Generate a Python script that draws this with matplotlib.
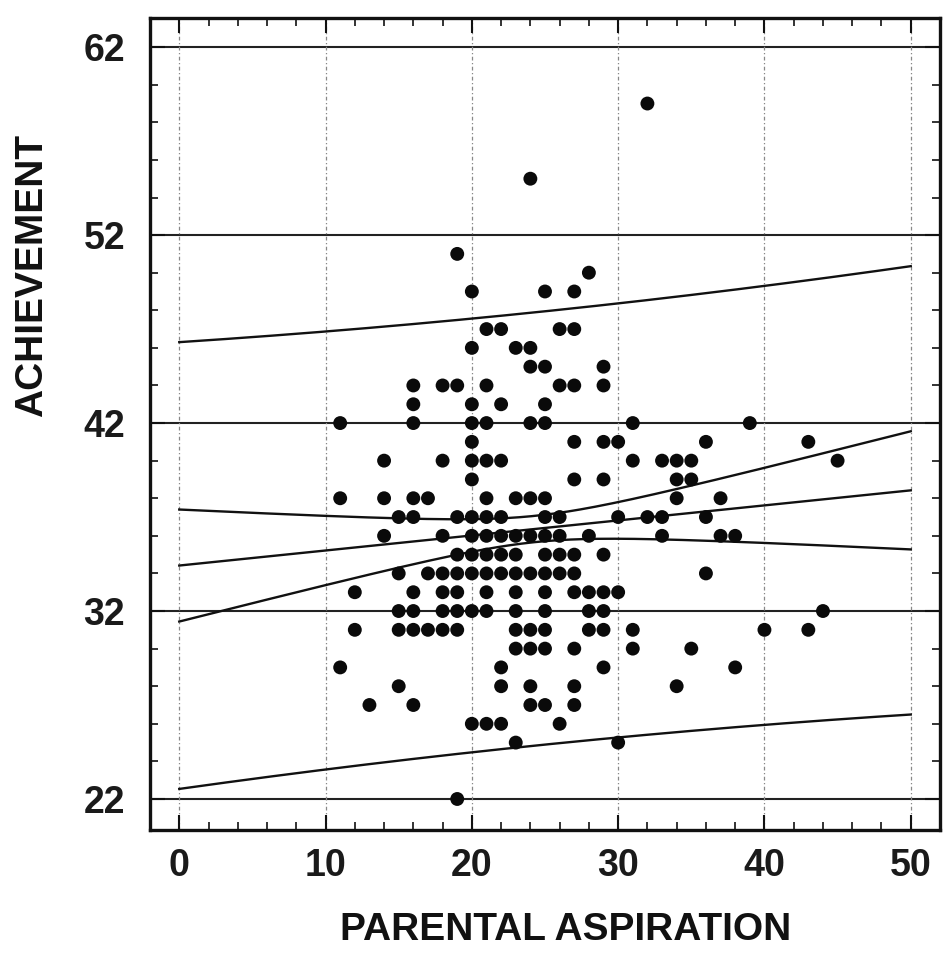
import numpy as np
import matplotlib
matplotlib.use("Agg")
import matplotlib.pyplot as plt
from matplotlib.ticker import MultipleLocator

# ---- data ----
achievement_levels = [59, 55, 51, 50, 49, 47, 46, 45, 44, 43, 42, 41, 40, 39, 38,
                      37, 36, 35, 34, 33, 32, 31, 30, 29, 28, 27, 26, 25, 22]
aspiration_at_level = [
    [32],
    [24],
    [19],
    [28],
    [20, 25, 27],
    [21, 22, 26, 27],
    [20, 23, 24],
    [24, 25, 29],
    [16, 18, 19, 21, 26, 27, 29],
    [16, 20, 22, 25],
    [11, 16, 20, 21, 24, 25, 31, 39],
    [20, 27, 29, 30, 36, 43],
    [14, 18, 20, 21, 22, 31, 33, 34, 35, 45],
    [20, 27, 29, 34, 35],
    [11, 14, 16, 17, 21, 23, 24, 25, 34, 37],
    [15, 16, 19, 20, 21, 22, 25, 26, 30, 32, 33, 36],
    [14, 18, 20, 21, 22, 23, 24, 25, 26, 28, 33, 37, 38],
    [19, 20, 21, 22, 23, 25, 26, 27, 29],
    [15, 17, 18, 19, 20, 21, 22, 23, 24, 25, 26, 27, 36],
    [12, 16, 18, 19, 21, 23, 25, 27, 28, 29, 30],
    [15, 16, 18, 19, 20, 21, 23, 25, 28, 29, 44],
    [12, 15, 16, 17, 18, 19, 23, 24, 25, 28, 29, 31, 40, 43],
    [23, 24, 25, 27, 31, 35],
    [11, 22, 29, 38],
    [15, 22, 24, 27, 34],
    [13, 16, 24, 25, 27],
    [20, 21, 22, 26],
    [23, 30],
    [19],
]
x_ticks = [0, 10, 20, 30, 40, 50]
y_ticks = [22, 32, 42, 52, 62]

# regression summary (many points overlap in the picture)
fit_intercept = 34.42
fit_slope = 0.080
fit_resid_sd = 5.84
fit_n = 271
fit_xmean = 24.3
fit_sxx = 9312.0
T_CRIT = 1.97
fit_x_range = [0, 50]

x = np.array([a for lev, row in zip(achievement_levels, aspiration_at_level) for a in row], float)
y = np.array([lev for lev, row in zip(achievement_levels, aspiration_at_level) for a in row], float)

xs = np.linspace(fit_x_range[0], fit_x_range[1], 300)
yhat = fit_intercept + fit_slope * xs
lev_term = 1 / fit_n + (xs - fit_xmean) ** 2 / fit_sxx
hw_mean = T_CRIT * fit_resid_sd * np.sqrt(lev_term)
hw_pred = T_CRIT * fit_resid_sd * np.sqrt(1 + lev_term)

fig = plt.figure(figsize=(9.43, 9.68), dpi=100)
ax = fig.add_axes([150 / 943, 1 - 830 / 968, 790 / 943, 812 / 968])
ax.set_xlim(-2, 52)
ax.set_ylim(20.35, 63.55)

# grid
for yt in y_ticks:
    ax.axhline(yt, color="#222222", lw=1.5, zorder=1)
for xt in x_ticks:
    ax.axvline(xt, color="#888888", lw=0.9, ls=(0, (3, 2, 1, 2)), zorder=1)

lc = "#111111"
for curve in (yhat, yhat + hw_mean, yhat - hw_mean, yhat + hw_pred, yhat - hw_pred):
    ax.plot(xs, curve, color=lc, lw=1.7, zorder=2)

ax.scatter(x, y, s=100, color="#0a0a0a", edgecolors="none", zorder=3)

ax.set_xticks(x_ticks)
ax.set_yticks(y_ticks)
ax.xaxis.set_minor_locator(MultipleLocator(2))
ax.yaxis.set_minor_locator(MultipleLocator(2))
ax.tick_params(which="both", direction="in", top=True, right=True, colors="#111111")
ax.tick_params(which="major", length=11, width=1.5)
ax.tick_params(which="minor", length=6, width=1.2)
ax.tick_params(axis="y", which="major", pad=18)
ax.tick_params(axis="x", which="major", pad=13)
for lab in ax.get_xticklabels() + ax.get_yticklabels():
    lab.set_fontfamily("Liberation Sans")
    lab.set_fontsize(27)
    lab.set_fontweight("semibold")
    lab.set_color("#1a1a1a")

for sp in ax.spines.values():
    sp.set_linewidth(2.4)
    sp.set_color("#111111")

fig.text(32 / 943, 1 - 275 / 968, "ACHIEVEMENT", rotation=90, ha="center", va="center",
         fontsize=28, fontweight="bold", family="Liberation Sans", color="#111111")
fig.text(566 / 943, 1 - 930 / 968, "PARENTAL ASPIRATION", ha="center", va="center",
         fontsize=28, fontweight="bold", family="Liberation Sans", color="#111111")

fig.savefig("out.png", dpi=100, facecolor="white")
